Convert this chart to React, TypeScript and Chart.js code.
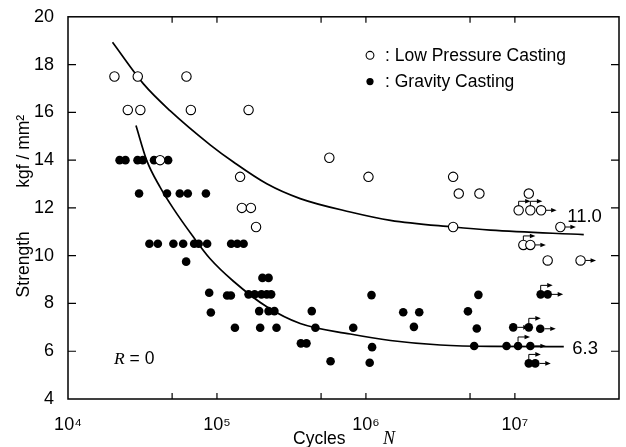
import React, { useEffect, useRef } from 'react';
import { Chart, registerables } from 'chart.js';

Chart.register(...registerables);

const SANS = '"Liberation Sans", Arial, Helvetica, sans-serif';
const SERIF = '"Liberation Serif", "Times New Roman", serif';

// ---- Data ----
const seriesLabels = ['Low Pressure Casting', 'Gravity Casting'];

// Low pressure casting (open circles)
const lowN = [
  2.05e4, 2.94e4, 6.24e4, 2.52e4, 3.06e4, 6.68e4, 4.15e4, 1.63e5, 5.68e5,
  1.43e5, 1.47e5, 1.69e5, 1.83e5, 1.04e6, 3.85e6, 4.2e6, 5.78e6, 3.85e6,
  1.24e7, 1.06e7, 1.27e7, 1.5e7, 2.02e7, 1.14e7, 1.27e7, 1.66e7, 2.76e7,
];
const lowS = [
  17.5, 17.5, 17.5, 16.1, 16.1, 16.1, 14.0, 16.1, 14.1,
  13.3, 12.0, 12.0, 11.2, 13.3, 13.3, 12.6, 12.6, 11.2,
  12.6, 11.9, 11.9, 11.9, 11.2, 10.45, 10.45, 9.8, 9.8,
];
// run-out marks: 'r' = arrow right, 'u' = elbow arrow above
const lowRun = [
  '', '', '', '', '', '', '', '', '',
  '', '', '', '', '', '', '', '', '',
  '', 'u', 'u', 'r', 'r', 'u', 'r', '', 'r',
];

// Gravity casting (filled circles)
const gravN = [
  2.22e4, 2.43e4, 2.93e4, 3.18e4, 3.78e4, 4.7e4,
  3.0e4, 4.62e4, 5.63e4, 6.37e4, 8.43e4,
  3.52e4, 4.01e4, 5.1e4, 5.93e4, 7.03e4, 7.54e4, 8.59e4, 1.245e5, 1.37e5, 1.51e5,
  6.21e4, 8.87e4, 9.1e4, 1.17e5, 1.24e5, 1.32e5, 2.02e5, 2.22e5,
  1.63e5, 1.79e5, 1.99e5, 2.16e5, 2.31e5,
  1.92e5, 2.22e5, 2.43e5, 4.33e5,
  1.95e5, 2.51e5, 4.58e5, 8.22e5,
  3.66e5, 3.99e5, 5.79e5,
  1.09e6, 1.78e6, 2.28e6, 2.1e6, 1.1e6, 1.06e6,
  4.84e6, 5.69e6, 5.55e6, 5.33e6,
  1.49e7, 1.66e7, 9.75e6, 1.24e7, 1.48e7, 8.79e6, 1.05e7, 1.27e7, 1.24e7, 1.37e7,
];
const gravS = [
  14.0, 14.0, 14.0, 14.0, 14.0, 14.0,
  12.6, 12.6, 12.6, 12.6, 12.6,
  10.5, 10.5, 10.5, 10.5, 10.5, 10.5, 10.5, 10.5, 10.5, 10.5,
  9.75, 8.45, 7.62, 8.33, 8.33, 6.98, 9.07, 9.07,
  8.38, 8.38, 8.38, 8.38, 8.38,
  7.68, 7.68, 7.68, 7.68,
  6.98, 6.98, 6.98, 6.98,
  6.33, 6.33, 5.58,
  8.35, 7.63, 7.63, 7.02, 6.17, 5.52,
  7.67, 8.36, 6.95, 6.22,
  8.38, 8.38, 7.0, 7.0, 6.94, 6.22, 6.22, 6.22, 5.49, 5.49,
];
const gravRun = [
  '', '', '', '', '', '',
  '', '', '', '', '',
  '', '', '', '', '', '', '', '', '', '',
  '', '', '', '', '', '', '', '',
  '', '', '', '', '',
  '', '', '', '',
  '', '', '', '',
  '', '', '',
  '', '', '', '', '', '',
  '', '', '', '',
  'u', 'r', 'r', 'u', 'r', '', 'u', 'r', 'u', 'r',
];

// Fitted curves
const upperN = [1.99e4, 3.21e4, 4.84e4, 9.0e4, 1.29e5, 2.16e5, 3.62e5, 7.85e5, 1.46e6, 3.85e6, 6.86e6, 2.9e7];
const upperS = [18.93, 17.19, 16.07, 14.64, 13.92, 13.01, 12.39, 11.83, 11.48, 11.2, 11.07, 10.88];
const lowerN = [2.86e4, 3.38e4, 4.15e4, 5.1e4, 6.95e4, 9.0e4, 1.29e5, 2.16e5, 3.62e5, 7.85e5, 1.46e6, 3.16e6, 6.86e6, 2.13e7];
const lowerS = [15.45, 13.98, 12.87, 11.97, 10.78, 9.87, 8.93, 7.86, 7.16, 6.72, 6.45, 6.26, 6.2, 6.19];
const curveLabels = ['11.0', '6.3'];

// Axes
const xTickExponents = [4, 5, 6, 7];
const xMinorTicks = [5e4, 5e5, 5e6];
const yTicks = [4, 6, 8, 10, 12, 14, 16, 18, 20];
const xTitle = 'Cycles';
const xTitleVar = 'N';
const yTitleMain = 'Strength';
const yTitleUnit = 'kgf / mm²';
const ratioVar = 'R';
const ratioText = ' = 0';

const SUP: Record<string, string> = { '0': '⁰', '1': '¹', '2': '²', '3': '³', '4': '⁴', '5': '⁵', '6': '⁶', '7': '⁷', '8': '⁸', '9': '⁹' };

const toPoints = (xs: number[], ys: number[]) => xs.map((x, i) => ({ x, y: ys[i] }));

const LOW_R = 4.7;
const GRAV_R = 4.3;

function arrowHead(ctx: CanvasRenderingContext2D, tipX: number, y: number) {
  ctx.beginPath();
  ctx.moveTo(tipX, y);
  ctx.lineTo(tipX - 5.5, y - 2.3);
  ctx.lineTo(tipX - 5.5, y + 2.3);
  ctx.closePath();
  ctx.fill();
}

function drawRunouts(ctx: CanvasRenderingContext2D, meta: any, runs: string[], r: number) {
  runs.forEach((k, i) => {
    const el = meta.data[i];
    if (!el || !k) return;
    const x = el.x;
    const y = el.y;
    ctx.beginPath();
    if (k === 'r') {
      ctx.moveTo(x + r, y);
      ctx.lineTo(x + 10.5, y);
      ctx.stroke();
      arrowHead(ctx, x + 15.5, y);
    } else {
      ctx.moveTo(x, y - r);
      ctx.lineTo(x, y - 9);
      ctx.lineTo(x + 7, y - 9);
      ctx.stroke();
      arrowHead(ctx, x + 12, y - 9);
    }
  });
}

const decorations = {
  id: 'decorations',
  beforeDatasetsDraw(chart: any) {
    const ctx: CanvasRenderingContext2D = chart.ctx;
    ctx.save();
    ctx.strokeStyle = '#000';
    ctx.fillStyle = '#000';
    ctx.lineWidth = 1;
    drawRunouts(ctx, chart.getDatasetMeta(0), lowRun, LOW_R);
    drawRunouts(ctx, chart.getDatasetMeta(1), gravRun, GRAV_R);
    ctx.restore();
  },
  afterDraw(chart: any) {
    const ctx: CanvasRenderingContext2D = chart.ctx;
    const { left, right, top, bottom } = chart.chartArea;
    const xs = chart.scales.x;
    const ys = chart.scales.y;
    ctx.save();
    ctx.strokeStyle = '#000';
    ctx.fillStyle = '#000';

    // frame
    ctx.lineWidth = 1.5;
    ctx.strokeRect(left, top, right - left, bottom - top);

    // inward tick marks
    ctx.lineWidth = 1.2;
    const xt = [...xTickExponents.map((e) => Math.pow(10, e)), ...xMinorTicks];
    xt.forEach((v) => {
      const px = xs.getPixelForValue(v);
      if (px <= left + 1 || px >= right - 1) return;
      ctx.beginPath();
      ctx.moveTo(px, bottom);
      ctx.lineTo(px, bottom - 6);
      ctx.moveTo(px, top);
      ctx.lineTo(px, top + 6);
      ctx.stroke();
    });
    yTicks.forEach((v) => {
      const py = ys.getPixelForValue(v);
      if (py <= top + 1 || py >= bottom - 1) return;
      ctx.beginPath();
      ctx.moveTo(left, py);
      ctx.lineTo(left + 8, py);
      ctx.moveTo(right, py);
      ctx.lineTo(right - 8, py);
      ctx.stroke();
    });

    // y axis title (rotated)
    ctx.font = `17.5px ${SANS}`;
    ctx.textAlign = 'center';
    ctx.textBaseline = 'alphabetic';
    const tx = left - 39;
    ctx.save();
    ctx.translate(tx, top + 247.5);
    ctx.rotate(-Math.PI / 2);
    ctx.fillText(yTitleMain, 0, 0);
    ctx.restore();
    ctx.save();
    ctx.translate(tx, top + 134.5);
    ctx.rotate(-Math.PI / 2);
    ctx.fillText(yTitleUnit, 0, 0);
    ctx.restore();

    // x axis title
    ctx.textAlign = 'left';
    ctx.font = `17.5px ${SANS}`;
    ctx.fillText(xTitle, left + 225, bottom + 44.5);
    ctx.font = `italic 18px ${SERIF}`;
    ctx.fillText(xTitleVar, left + 315, bottom + 44.5);

    // R = 0
    ctx.font = `italic 17.5px ${SERIF}`;
    ctx.fillText(ratioVar, left + 46, top + 347);
    const rw = ctx.measureText(ratioVar).width;
    ctx.font = `17.5px ${SANS}`;
    ctx.fillText(ratioText, left + 46 + rw, top + 347);

    // legend
    const lx = left + 302;
    const ly0 = top + 38.5;
    const lgap = 26.3;
    ctx.textBaseline = 'middle';
    ctx.font = `17.5px ${SANS}`;
    ctx.beginPath();
    ctx.arc(lx, ly0, 3.9, 0, Math.PI * 2);
    ctx.fillStyle = '#fff';
    ctx.fill();
    ctx.lineWidth = 1.1;
    ctx.stroke();
    ctx.fillStyle = '#000';
    ctx.fillText(': ' + seriesLabels[0], lx + 15, ly0 + 1);
    ctx.beginPath();
    ctx.arc(lx, ly0 + lgap, 3.6, 0, Math.PI * 2);
    ctx.fill();
    ctx.fillText(': ' + seriesLabels[1], lx + 15, ly0 + lgap + 1);

    // curve labels
    ctx.font = `18.5px ${SANS}`;
    const mu = chart.getDatasetMeta(2).data;
    const ml = chart.getDatasetMeta(3).data;
    const eu = mu[mu.length - 1];
    const el = ml[ml.length - 1];
    if (eu) ctx.fillText(curveLabels[0], eu.x - 16.5, eu.y - 18);
    if (el) ctx.fillText(curveLabels[1], el.x + 8.5, el.y + 2);

    ctx.restore();
  },
};

export default function App() {
  const ref = useRef<HTMLCanvasElement | null>(null);

  useEffect(() => {
    const canvas = ref.current;
    if (!canvas) return;
    const chart = new Chart(canvas, {
      type: 'scatter',
      data: {
        datasets: [
          {
            label: seriesLabels[0],
            data: toPoints(lowN, lowS),
            pointStyle: 'circle',
            pointRadius: LOW_R,
            pointBackgroundColor: '#fff',
            pointBorderColor: '#000',
            pointBorderWidth: 1.1,
            showLine: false,
            order: 0,
          },
          {
            label: seriesLabels[1],
            data: toPoints(gravN, gravS),
            pointStyle: 'circle',
            pointRadius: GRAV_R,
            pointBackgroundColor: '#000',
            pointBorderColor: '#000',
            pointBorderWidth: 0,
            showLine: false,
            order: 1,
          },
          {
            label: 'fit-low-pressure',
            data: toPoints(upperN, upperS),
            showLine: true,
            borderColor: '#000',
            borderWidth: 1.7,
            pointRadius: 0,
            cubicInterpolationMode: 'monotone',
            fill: false,
            order: 2,
          },
          {
            label: 'fit-gravity',
            data: toPoints(lowerN, lowerS),
            showLine: true,
            borderColor: '#000',
            borderWidth: 1.7,
            pointRadius: 0,
            cubicInterpolationMode: 'monotone',
            fill: false,
            order: 3,
          },
        ],
      } as any,
      options: {
        responsive: false,
        maintainAspectRatio: false,
        animation: false,
        events: [],
        layout: { padding: { top: 16, right: 7, left: 0, bottom: 0 } },
        plugins: {
          legend: { display: false },
          tooltip: { enabled: false },
          title: { display: false },
        },
        scales: {
          x: {
            type: 'logarithmic',
            min: 1e4,
            max: 5e7,
            grid: { display: false },
            border: { display: false },
            afterFit: (s: any) => {
              s.height = 48;
            },
            afterBuildTicks: (s: any) => {
              s.ticks = xTickExponents.map((e) => ({ value: Math.pow(10, e) }));
            },
            ticks: {
              autoSkip: false,
              maxRotation: 0,
              padding: 7,
              color: '#000',
              font: { family: SANS, size: 18 },
              callback: (v: any) => {
                const e = Math.round(Math.log10(Number(v)));
                return '10' + String(e).split('').map((c) => SUP[c]).join('');
              },
            },
          },
          y: {
            type: 'linear',
            min: 4,
            max: 20,
            grid: { display: false },
            border: { display: false },
            afterFit: (s: any) => {
              s.width = 68;
            },
            afterBuildTicks: (s: any) => {
              s.ticks = yTicks.map((v) => ({ value: v }));
            },
            ticks: {
              padding: 6,
              color: '#000',
              font: { family: SANS, size: 18 },
            },
          },
        },
      } as any,
      plugins: [decorations],
    });
    return () => chart.destroy();
  }, []);

  return (
    <div style={{ position: 'fixed', left: 0, top: 0, width: 626, height: 447, background: '#fff' }}>
      <canvas ref={ref} width={626} height={447} style={{ display: 'block', width: 626, height: 447 }} />
    </div>
  );
}
